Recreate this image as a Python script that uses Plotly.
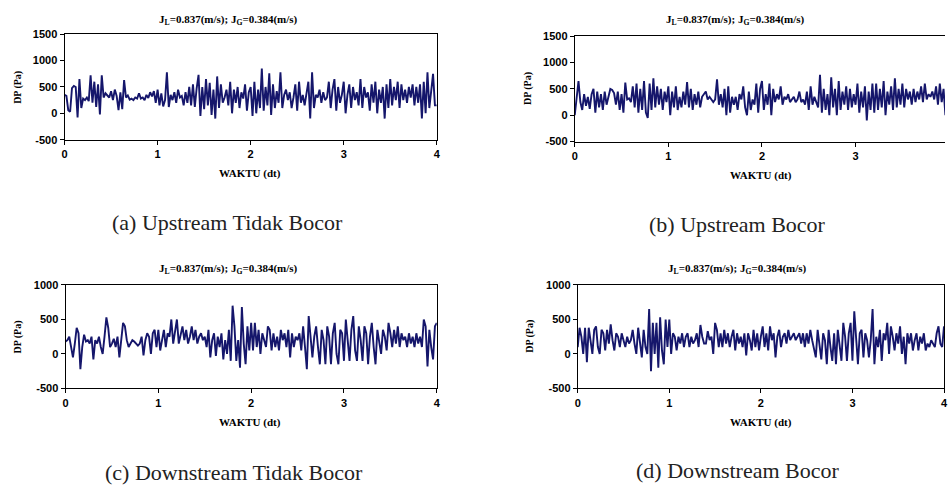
import plotly.graph_objects as go

W, H = 949, 490

# Sample interval of the pressure-drop record (s); 201 samples over 0-4 s
T_STEP = 0.02

TITLE = "<b>J<sub>L</sub>=0.837(m/s); J<sub>G</sub>=0.384(m/s)</b>"
CAPTIONS = ["(a) Upstream Tidak Bocor", "(b) Upstream Bocor",
            "(c) Downstream Tidak Bocor", "(d) Downstream Bocor"]

# DP (Pa) readings, upstream, no leak
dp_up_tidak_bocor = [
    350, 330, 60, 30, 480, 520, 500, -80, 650, 100,
    280, 250, 300, 230, 720, 200, 600, 120, 550, -20,
    720, 300, 380, 330, 300, 420, 250, 450, 330, 60,
    400, 80, 630, 300, 340, 260, 280, 250, 300, 280,
    380, 280, 300, 250, 350, 290, 400, 320, 420, 200,
    450, 150, 380, 130, 250, 780, 120, 350, 250, 400,
    200, 450, 300, 330, 150, 400, 200, 500, 150, 550,
    120, 480, 730, -50, 500, 80, 650, 150, 580, -30,
    450, -100, 700, 100, 550, 200, 300, 450, 150, 600,
    0, 450, 200, 500, 100, 400, 280, 550, 50, 400,
    500, -50, 600, 0, 450, 100, 850, 50, 500, 150,
    760, -30, 550, 100, 420, 200, 780, 100, 350, 450,
    250, 400, 100, 300, 550, 50, 600, 200, 350, 150,
    400, 600, -100, 780, 100, 350, 300, 450, 200, 400,
    250, 300, 600, 100, 450, 650, 50, 500, 200, 350,
    600, 0, 350, 550, 100, 500, 250, 400, 150, 650,
    100, 500, 300, 400, 50, 550, 200, 600, 0, 450,
    200, 500, -100, 550, 100, 650, 150, 500, 250, 600,
    100, 550, 250, 450, 200, 500, 300, 550, 150, 500,
    200, 550, -100, 600, 0, 780, 100, 500, 750, 150,
    150,
]

# DP (Pa) readings, upstream, with leak
dp_up_bocor = [
    0, 300, 650, 250, 100, 400, 180, 350, 120, 400,
    500, 50, 450, 150, 400, 100, 450, 200, 350, 500,
    480, 420, 200, 450, 100, 400, 50, 620, 300, 320,
    250, 550, 150, 600, 50, 500, 100, 650, 50, -50,
    600, 100, 700, 150, 550, 200, 500, 100, 450, 250,
    550, 0, 450, 150, 550, 100, 350, 150, 450, 200,
    630, 150, 500, 100, 400, 200, 450, 150, 350, 400,
    450, 300, 350, 300, 250, 300, 680, 200, 400, 150,
    500, 0, 550, 50, 350, 200, 350, 100, 400, 300,
    550, 150, 0, 450, 100, 300, 200, 600, 50, 500,
    650, 100, 400, 200, 600, 0, 500, 250, 400, 300,
    550, 200, 350, 300, 400, 250, 300, 350, 250, 300,
    450, 250, 300, 200, 450, 100, 550, 200, 350, 250,
    150, 770, 50, 500, 100, 400, 0, 720, 150, 500,
    0, 650, 100, 450, 200, 550, 100, 500, 150, 400,
    200, 600, 50, 450, 150, 550, -100, 450, 100, 600,
    50, 600, 100, 500, 150, 650, 0, 450, 200, 550,
    100, 700, 150, 500, 200, 600, 150, 500, 300, 450,
    200, 500, 250, 450, 300, 550, 250, 600, 300, 400,
    350, 450, 300, 550, 200, 600, 250, 500, 0, 400,
    200,
]

# DP (Pa) readings, downstream, no leak
dp_down_tidak_bocor = [
    180, 200, 250, 120, -50, 150, 380, 300, -220, 100,
    280, 180, 200, 150, 250, -80, 200, 150, 250, 100,
    0, 250, 530, 380, 100, 150, 220, 100, 250, -50,
    200, 450, 400, 200, 100, 150, 200, 180, 150, 120,
    150, 250, -20, 200, 300, 250, 0, 300, 350, 100,
    350, 50, 200, 350, 100, 300, 250, 500, 150, 350,
    500, 150, 300, 400, 200, 350, 150, 250, 400, 200,
    350, 150, 250, 300, 200, 250, 100, 350, -50, 200,
    300, -30, 250, 100, 300, -80, 200, 0, 350, -100,
    700, 400, -100, 200, -200, 680, 150, -150, 400, 50,
    450, 50, 450, 100, 350, 0, 300, 200, 100, 400,
    350, 50, 300, 100, 250, 50, 350, 200, 300, 100,
    350, -50, 300, 100, 250, 200, 300, 50, 400, 100,
    -220, 550, 300, -50, 250, 400, 100, -150, 350, 200,
    -150, 400, 250, -150, 300, 450, 0, -150, 350, 300,
    -100, 500, 200, -100, 350, 550, 50, -100, 400, 200,
    -100, 400, 300, -150, 250, 450, 100, -150, 350, 200,
    0, 350, 250, 50, 450, 300, 100, 350, 150, 400,
    100, 300, 200, 250, 100, 300, 150, 250, 100, 300,
    150, 250, 100, 500, 400, -180, 350, 100, -80, 400,
    450,
]

# DP (Pa) readings, downstream, with leak
dp_down_bocor = [
    100, 380, 250, 0, 380, -120, 380, 200, 0, 350,
    400, 100, 0, 350, 300, 50, 350, 150, 430, 200,
    50, 300, 250, 100, 300, 200, 100, 250, 150, 200,
    350, 150, 0, 380, 200, -50, 350, 100, 0, 650,
    -250, 450, 0, 450, -200, 530, 50, -150, 500, 100,
    500, 0, 300, 250, 50, 250, 150, 300, 100, 250,
    300, 100, 250, 150, 200, 300, 100, 420, 250, 150,
    150, 330, 200, 250, 0, 450, 350, 100, 300, 100,
    350, 150, 300, 100, 250, 350, 50, 300, 150, 250,
    100, 300, -20, 300, 200, 50, 350, 100, 300, 50,
    250, 400, 100, 300, 50, 400, 200, 300, -50, 250,
    350, 100, 250, 300, 150, 350, 200, 250, 300, 200,
    250, 300, 150, 300, 100, 300, 150, 350, 200, 50,
    -50, 350, 150, -80, 300, 200, -150, 350, 100, -100,
    300, -150, 350, 150, -100, 450, 250, -100, 300, 450,
    -100, 620, 150, -150, 300, 350, -50, 300, 200, -50,
    200, 650, -150, 250, 100, 350, -100, 300, 200, 450,
    0, 400, 250, 50, 300, 150, 400, 0, 250, -150,
    300, 150, 300, 50, 200, 300, 50, 250, 150, 300,
    50, 150, 100, 200, 150, 100, 300, 400, 150, 100,
    400,
]

Y_TICKS_TOP = [-500, 0, 500, 1000, 1500]
Y_TICKS_BOTTOM = [-500, 0, 500, 1000]
X_TICKS = [0, 1, 2, 3, 4]

LINE_COLOR = "#15166b"
TICK_FONT = dict(family="Liberation Sans, Arial, sans-serif", size=11,
                 color="black", weight="bold")
SERIF_BOLD = "Liberation Serif, Times New Roman, serif"


def px_x(p):
    return p / W


def px_y(p):
    return 1 - p / H


# panel boxes in pixels: left, right, top, bottom, x-range max, y-range
panels = [
    dict(data=dp_up_tidak_bocor, l=62, r=437, t=29, b=137, xmax=4.0,
         yr=[-500, 1500], yt=Y_TICKS_TOP, right_edge=True, cx=227, title_y=14,
         wx=249, wy=172, dpx=15, cap_y=222),
    dict(data=dp_up_bocor, l=576, r=949, t=31, b=139, xmax=(949 - 576) / 94.3,
         yr=[-500, 1500], yt=Y_TICKS_TOP, right_edge=False, cx=738, title_y=14,
         wx=764, wy=174, dpx=529, cap_y=224),
    dict(data=dp_down_tidak_bocor, l=63, r=437, t=286, b=392, xmax=4.0,
         yr=[-500, 1000], yt=Y_TICKS_BOTTOM, right_edge=True, cx=227, title_y=270,
         wx=249, wy=427, dpx=15, cap_y=478),
    dict(data=dp_down_bocor, l=579, r=948, t=286, b=392, xmax=4.0,
         yr=[-500, 1000], yt=Y_TICKS_BOTTOM, right_edge=True, cx=740, title_y=270,
         wx=764, wy=427, dpx=531, cap_y=476),
]

caption_x = [226, 740, 233, 740]

fig = go.Figure()
annotations = []

for i, p in enumerate(panels):
    n = i + 1
    xa = "x" if n == 1 else f"x{n}"
    ya = "y" if n == 1 else f"y{n}"
    times = [round(k * T_STEP, 4) for k in range(len(p["data"]))]
    fig.add_trace(go.Scatter(
        x=times, y=p["data"], mode="lines", xaxis=xa, yaxis=ya,
        line=dict(color=LINE_COLOR, width=1.9), showlegend=False,
        hoverinfo="skip",
    ))
    xkey = "xaxis" if n == 1 else f"xaxis{n}"
    ykey = "yaxis" if n == 1 else f"yaxis{n}"
    fig.update_layout(**{
        xkey: dict(
            domain=[px_x(p["l"]), px_x(p["r"])], anchor=ya,
            range=[0, p["xmax"]], tickvals=X_TICKS, ticks="outside", ticklen=4,
            tickcolor="black", showline=True, linecolor="black", linewidth=1,
            mirror=True, showgrid=False, zeroline=False, tickfont=TICK_FONT,
        ),
        ykey: dict(
            domain=[px_y(p["b"]), px_y(p["t"])], anchor=xa,
            range=p["yr"], tickvals=p["yt"],
            ticktext=[str(v) for v in p["yt"]],
            ticks="outside", ticklen=4,
            tickcolor="black", showline=True, linecolor="black", linewidth=1,
            mirror=p["right_edge"], showgrid=False, zeroline=False,
            tickfont=TICK_FONT,
        ),
    })
    annotations.append(dict(
        text=TITLE, x=px_x(p["cx"]), y=px_y(p["title_y"]), xref="paper",
        yref="paper", showarrow=False, xanchor="center", yanchor="middle",
        font=dict(family=SERIF_BOLD, size=11, color="black"),
    ))
    annotations.append(dict(
        text="<b>WAKTU (dt)</b>", x=px_x(p["wx"]), y=px_y(p["wy"]), xref="paper",
        yref="paper", showarrow=False, xanchor="center", yanchor="middle",
        font=dict(family=SERIF_BOLD, size=11, color="black"),
    ))
    annotations.append(dict(
        text="<b>DP (Pa)</b>", x=px_x(p["dpx"]), y=px_y((p["t"] + p["b"]) / 2),
        xref="paper", yref="paper", showarrow=False, textangle=-90,
        xanchor="center", yanchor="middle",
        font=dict(family=SERIF_BOLD, size=10, color="black"),
    ))
    annotations.append(dict(
        text=CAPTIONS[i], x=px_x(caption_x[i]), y=px_y(p["cap_y"]), xref="paper",
        yref="paper", showarrow=False, xanchor="center", yanchor="middle",
        font=dict(family="Liberation Serif, Times New Roman, serif", size=22,
                  color="#222222"),
    ))

fig.update_layout(
    width=W, height=H, margin=dict(l=0, r=0, t=0, b=0),
    paper_bgcolor="white", plot_bgcolor="white",
    annotations=annotations,
)

fig.write_html("out.html")
